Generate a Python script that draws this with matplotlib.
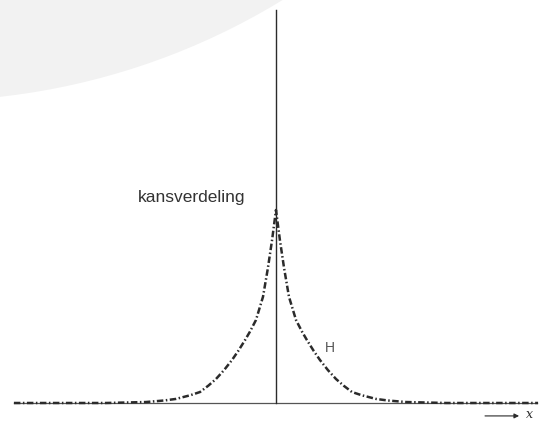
import matplotlib
matplotlib.use("Agg")
import matplotlib.pyplot as plt
from matplotlib.patches import Ellipse
import numpy as np

# distribution H (right half, mirrored to the left)
x_half = [0.0, 0.15, 0.31, 0.5, 0.77, 1.0, 1.19, 1.45, 1.69, 2.0, 2.31, 2.6,
          2.92, 3.3, 3.85, 4.3, 5.0, 6.54, 10.08]
p_half = [1.0, 0.845, 0.70, 0.55, 0.43, 0.37, 0.326, 0.27, 0.223, 0.17, 0.124,
          0.09, 0.057, 0.04, 0.021, 0.013, 0.005, 0.0, 0.0]

label_dist = "kansverdeling"
label_curve = "H"
label_axis = "x"

x = np.concatenate([-np.array(x_half[::-1]), np.array(x_half[1:])])
p = np.concatenate([np.array(p_half[::-1]), np.array(p_half[1:])])

fig = plt.figure(figsize=(5.43, 4.21), dpi=100)
ax = fig.add_axes([0, 0, 1, 1])
ax.set_xlim(-10.615, 10.27)
ax.set_ylim(-0.0933, 2.088)
ax.axis("off")

# pale round shape in the top-left corner
ax.add_patch(Ellipse((-13.54, 5.124), 2 * 687 / 26, 2 * 687 / 193,
                     facecolor="#f2f2f2", edgecolor="none", zorder=0))

ink = "#2b2b2b"
ax.plot([-10.08, 10.04], [0, 0], color="#555555", lw=0.9, zorder=1)
ax.plot([0, 0], [0, 2.036], color=ink, lw=1.0, zorder=2)
ax.plot(x, p, color=ink, lw=1.8, dashes=(2.6, 1.0, 0.6, 1.0), zorder=3)

ax.text(-1.19, 1.067, label_dist, ha="right", va="center", fontsize=12.5,
        family="Liberation Sans", color="#333333")
ax.text(2.08, 0.285, label_curve, ha="center", va="center", fontsize=10,
        family="Liberation Sans", color="#555555")

ax.annotate("", xy=(9.35, -0.067), xytext=(8.04, -0.067),
            arrowprops=dict(arrowstyle="-|>", color=ink, lw=0.8,
                            mutation_scale=7, shrinkA=0, shrinkB=0))
ax.text(9.75, -0.062, label_axis, ha="center", va="center", fontsize=9,
        family="DejaVu Serif", style="italic", color=ink)

fig.savefig("out.png", dpi=100)
